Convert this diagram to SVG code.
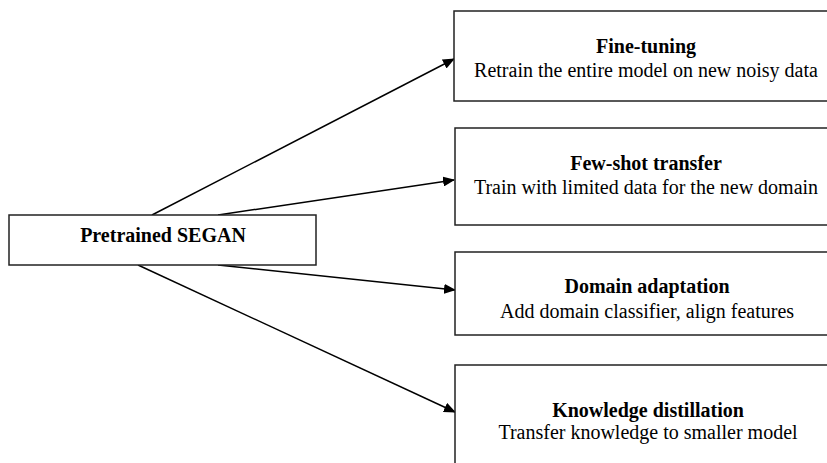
<svg xmlns="http://www.w3.org/2000/svg" width="827" height="463" viewBox="0 0 827 463">
<style>
.box{fill:#fff;stroke:#222;stroke-width:1.5}
.t{font-family:"Liberation Serif","Times New Roman",serif;font-size:20px;fill:#000;text-anchor:middle}
.b{font-weight:bold}
.c{stroke:#000;stroke-width:1.5;fill:none;marker-end:url(#ah)}
</style>
<defs>
<marker id="ah" markerWidth="12" markerHeight="10" refX="11" refY="5" orient="auto" markerUnits="userSpaceOnUse">
<path d="M0,0 L12,5 L0,10 z" fill="#000"/>
</marker>
</defs>
<g id="connectors">
<line class="c" x1="152" y1="215" x2="454" y2="59"/>
<line class="c" x1="218" y1="215" x2="454" y2="180"/>
<line class="c" x1="218" y1="265" x2="455" y2="290"/>
<line class="c" x1="138" y1="265" x2="455" y2="412"/>
</g>
<g id="pretrained">
<rect class="box" x="9" y="215" width="307" height="50"/>
<text class="t b" x="163" y="242">Pretrained SEGAN</text>
</g>
<g id="finetuning">
<rect class="box" x="454" y="11" width="384" height="90"/>
<text class="t b" x="646" y="53">Fine-tuning</text>
<text class="t" x="646" y="77">Retrain the entire model on new noisy data</text>
</g>
<g id="fewshot">
<rect class="box" x="455" y="128" width="384" height="97"/>
<text class="t b" x="646" y="170">Few-shot transfer</text>
<text class="t" x="646" y="194">Train with limited data for the new domain</text>
</g>
<g id="domain">
<rect class="box" x="455" y="252" width="384" height="83"/>
<text class="t b" x="647" y="293">Domain adaptation</text>
<text class="t" x="647" y="318">Add domain classifier, align features</text>
</g>
<g id="distill">
<rect class="box" x="455" y="365" width="384" height="110"/>
<text class="t b" x="648" y="417">Knowledge distillation</text>
<text class="t" x="648" y="439">Transfer knowledge to smaller model</text>
</g>
</svg>
